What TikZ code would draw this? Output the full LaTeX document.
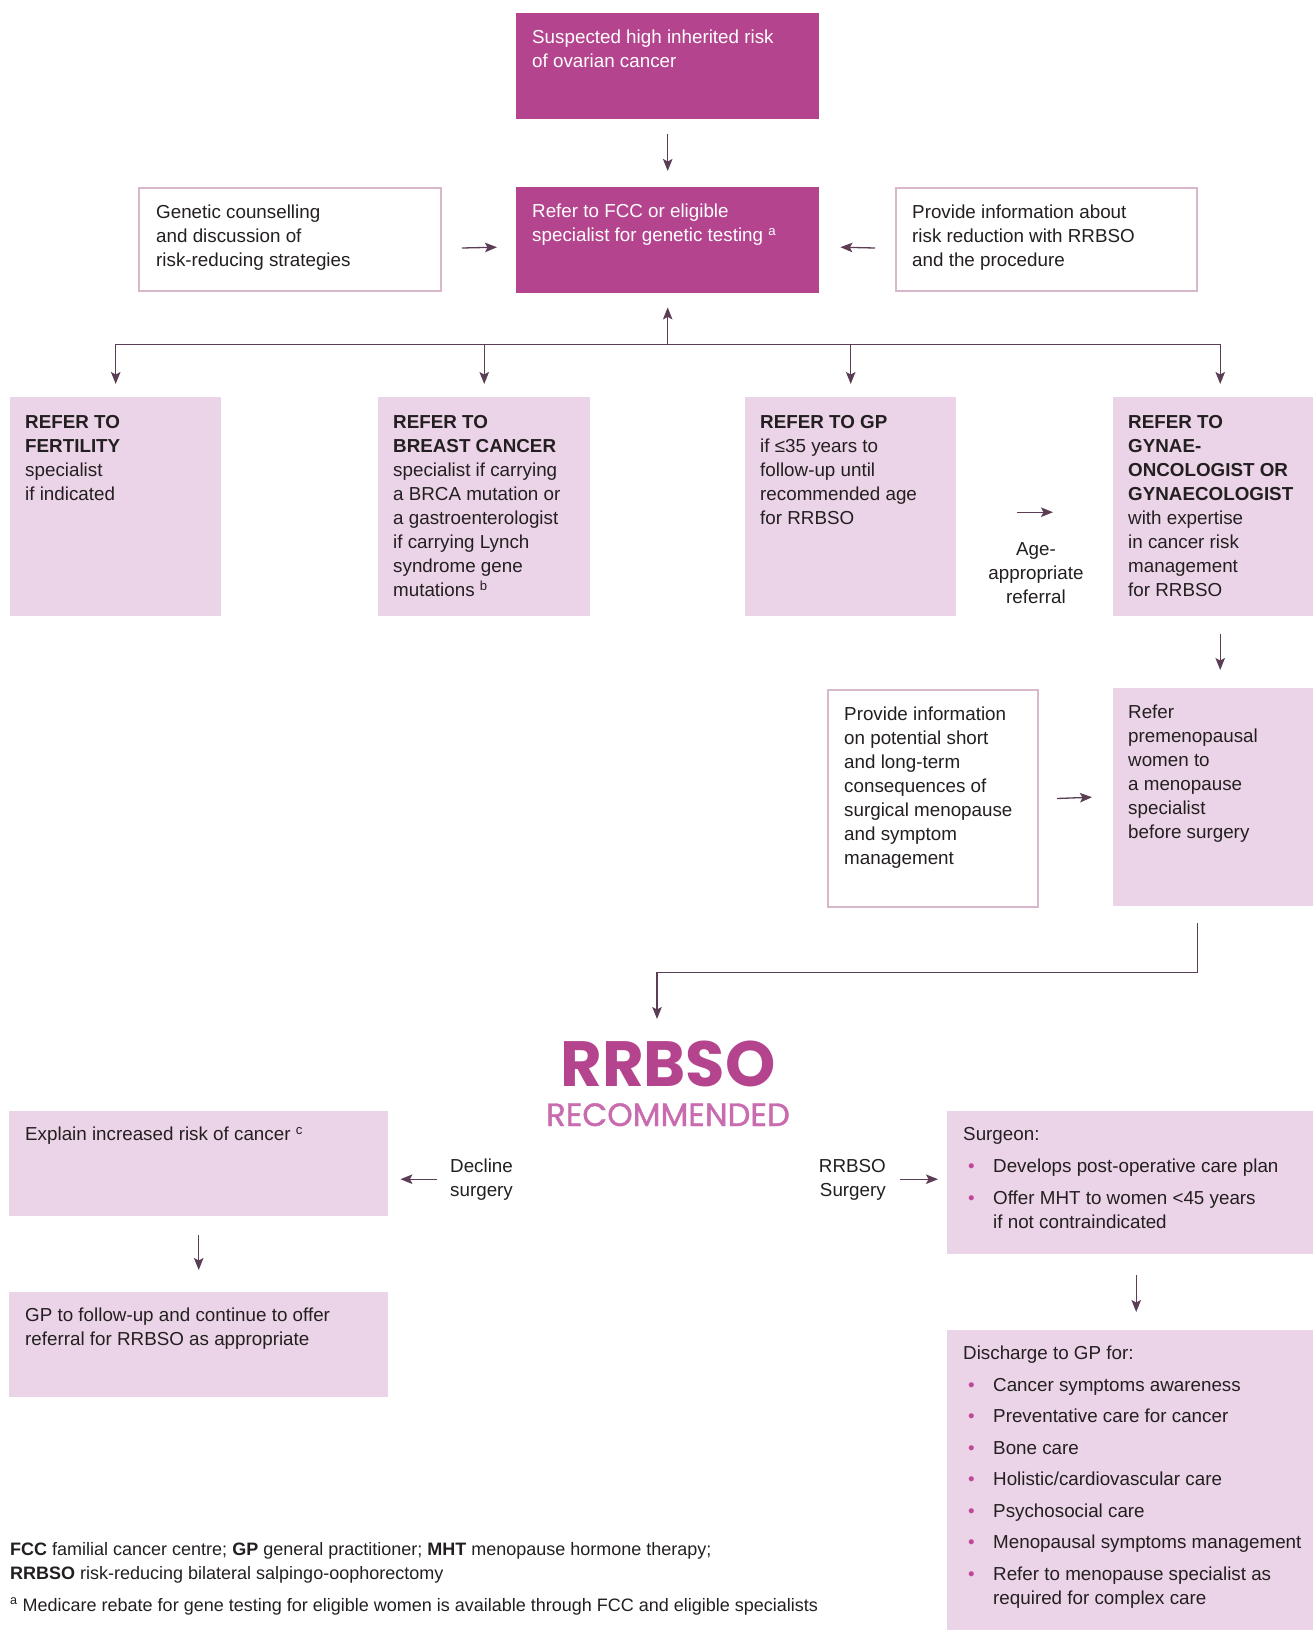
\documentclass[tikz,border=0pt]{standalone}
\usepackage{fontspec}
\setmainfont{Liberation Sans}
\newfontfamily\titlefont{Poppins}
\newfontfamily\titlemid{Poppins}[FakeBold=1.2]
\usetikzlibrary{calc,positioning,arrows.meta}

\definecolor{plum}{HTML}{B5448F}
\definecolor{blush}{HTML}{EBD4E7}
\definecolor{edge}{HTML}{D9B8CB}
\definecolor{arrowc}{HTML}{5C3D56}
\definecolor{ink}{HTML}{231F20}
\definecolor{softplum}{HTML}{C86BAF}
\definecolor{dotc}{HTML}{C0489A}

\newcommand\bodyfont{\fontsize{18.8}{24}\selectfont}
\newcommand\notefont{\fontsize{18}{24}\selectfont}
\newcommand\bul{\hspace*{5pt}\makebox[25pt][l]{\textcolor{dotc}{•}}}
\newcommand\bulgap{\hspace*{30pt}}

\tikzset{
  darkbox/.style={anchor=north west, inner sep=0pt, fill=plum},
  pinkbox/.style={anchor=north west, inner sep=0pt, fill=blush},
  linebox/.style={anchor=north west, inner sep=0pt, draw=edge, line width=2pt, fill=white},
  boxtext/.style={anchor=north west, inner sep=0pt, align=left, text=ink, font=\bodyfont},
  flow/.style={draw=arrowc, line width=1.3pt, -{Stealth[length=12pt,width=9.5pt,inset=2.5pt]}},
  trunk/.style={draw=arrowc, line width=1.3pt},
}

\begin{document}
\begin{tikzpicture}[x=1pt, y=-1pt]
    \useasboundingbox (0,0) rectangle (1313,1630);

    % top of the chart
    \node[darkbox, minimum width=303, minimum height=106] (suspect) at (516,13) {};
    \node[boxtext, text=white] (suspect-t) at ($(suspect.north west)+(16,17)$) {Suspected high inherited risk\\of ovarian cancer};
    \node[darkbox, minimum width=303, minimum height=106] (fcc) at (516,187) {};
    \node[boxtext, text=white] (fcc-t) at ($(fcc.north west)+(16,17)$) {Refer to FCC or eligible\\specialist for genetic testing \textsuperscript{a}};
    \node[linebox, minimum width=302, minimum height=103] (gc) at (138,187) {};
    \node[boxtext] (gc-t) at ($(gc.north west)+(18,18)$) {Genetic counselling\\and discussion of\\risk-reducing strategies};
    \node[linebox, minimum width=301, minimum height=103] (info) at (895,187) {};
    \node[boxtext] (info-t) at ($(info.north west)+(17,18)$) {Provide information about\\risk reduction with RRBSO\\and the procedure};

    % referral row
    \node[pinkbox, minimum width=211, minimum height=219] (fert) at (10,397) {};
    \node[boxtext] (fert-t) at ($(fert.north west)+(15,18)$) {\textbf{REFER TO}\\\textbf{FERTILITY}\\specialist\\if indicated};
    \node[pinkbox, minimum width=212, minimum height=219] (breast) at (378,397) {};
    \node[boxtext] (breast-t) at ($(breast.north west)+(15,18)$) {\textbf{REFER TO}\\\textbf{BREAST CANCER}\\specialist if carrying\\a BRCA mutation or\\a gastroenterologist\\if carrying Lynch\\syndrome gene\\mutations \textsuperscript{b}};
    \node[pinkbox, minimum width=211, minimum height=219] (gp) at (745,397) {};
    \node[boxtext] (gp-t) at ($(gp.north west)+(15,18)$) {\textbf{REFER TO GP}\\if ≤35 years to\\follow-up until\\recommended age\\for RRBSO};
    \node[pinkbox, minimum width=200, minimum height=219] (gynae) at (1113,397) {};
    \node[boxtext] (gynae-t) at ($(gynae.north west)+(15,18)$) {\textbf{REFER TO}\\\textbf{GYNAE-}\\\textbf{ONCOLOGIST OR}\\\textbf{GYNAECOLOGIST}\\with expertise\\in cancer risk\\management\\for RRBSO};

    % before surgery
    \node[linebox, minimum width=210, minimum height=217] (conseq) at (827,689) {};
    \node[boxtext] (conseq-t) at ($(conseq.north west)+(17,18)$) {Provide information\\on potential short\\and long-term\\consequences of\\surgical menopause\\and symptom\\management};
    \node[pinkbox, minimum width=200, minimum height=218] (meno) at (1113,688) {};
    \node[boxtext] (meno-t) at ($(meno.north west)+(15,17)$) {Refer\\premenopausal\\women to\\a menopause\\specialist\\before surgery};

    % decision
    \node[anchor=base, inner sep=0pt, text=plum, font=\titlefont\bfseries\fontsize{64}{64}\selectfont] (rrbso) at (668,1086) {RRBSO};
    \node[anchor=base, inner sep=0pt, text=softplum, font=\titlemid\fontsize{32.3}{33}\selectfont] (recom) at (668,1126) {RECOMMENDED};
    \coordinate (ttlin) at (657,1019);

    \node[pinkbox, minimum width=379, minimum height=105] (explain) at (9,1111) {};
    \node[boxtext] (explain-t) at ($(explain.north west)+(16,16)$) {Explain increased risk of cancer \textsuperscript{c}};
    \node[pinkbox, minimum width=379, minimum height=105] (gpfu) at (9,1292) {};
    \node[boxtext] (gpfu-t) at ($(gpfu.north west)+(16,16)$) {GP to follow-up and continue to offer\\referral for RRBSO as appropriate};
    \node[boxtext] (decline) at (450,1159) {Decline\\surgery};

    \node[boxtext, anchor=north east, align=right] (rrsurg) at (886,1159) {RRBSO\\Surgery};
    \node[pinkbox, minimum width=366, minimum height=143] (surgeon) at (947,1111) {};
    \node[boxtext] (surgeon-t) at ($(surgeon.north west)+(16,16)$) {Surgeon:\\[8pt]
        \bul Develops post-operative care plan\\[8pt]
        \bul Offer MHT to women <45 years\\
        \bulgap if not contraindicated};
    \node[pinkbox, minimum width=366, minimum height=300] (discharge) at (947,1330) {};
    \node[boxtext] (discharge-t) at ($(discharge.north west)+(16,16)$) {Discharge to GP for:\\[7.5pt]
        \bul Cancer symptoms awareness\\[7.5pt]
        \bul Preventative care for cancer\\[7.5pt]
        \bul Bone care\\[7.5pt]
        \bul Holistic/cardiovascular care\\[7.5pt]
        \bul Psychosocial care\\[7.5pt]
        \bul Menopausal symptoms management\\[7.5pt]
        \bul Refer to menopause specialist as\\
        \bulgap required for complex care};

    \node[boxtext, font=\notefont] (notes) at (10,1542) {\textbf{FCC} familial cancer centre; \textbf{GP} general practitioner; \textbf{MHT} menopause hormone therapy;\\
        \textbf{RRBSO} risk-reducing bilateral salpingo-oophorectomy\\[8pt]
        \textsuperscript{a} Medicare rebate for gene testing for eligible women is available through FCC and eligible specialists};

    % connectors
    \draw[flow] ($(suspect.south)+(0,15)$) -- ($(fcc.north)+(0,-16)$);
    \draw[flow] ($(gc.east)+(20,8.5)$) -- ($(fcc.west)+(-19,7)$);
    \draw[flow] ($(info.west)+(-20,8.5)$) -- ($(fcc.east)+(21,7)$);
    \coordinate (bus) at ($(fcc.south)+(0,51)$);
    \coordinate (gyin) at ($(gynae.north)+(7,-13)$);
    \draw[flow] (bus) -- ($(fcc.south)+(0,14)$);
    \draw[trunk] (fert.north |- bus) -- (gyin |- bus);
    \foreach \b in {fert,breast,gp} {
        \draw[flow] (\b.north |- bus) -- ($(\b.north)+(0,-13)$);
    }
    \draw[flow] (gyin |- bus) -- (gyin);
    \draw[flow] ($(gp.east)+(61,5.5)$) -- ($(gynae.west)+(-60,5.5)$);
    \node[boxtext, anchor=north, align=center] (agelbl) at (1036,542) {Age-\\appropriate\\referral};
    \draw[flow] ($(gynae.south)+(7,18)$) -- ($(meno.north)+(7,-18)$);
    \draw[flow] ($(conseq.east)+(18,0)$) -- ($(meno.west)+(-21,0)$);
    \draw[flow] ($(meno.south)+(-16,17)$) -- ++(0,49) -| (ttlin);
    \draw[flow] ($(explain.east)+(49,15.5)$) -- ($(explain.east)+(12,15.5)$);
    \draw[flow] ($(explain.south)+(0,19)$) -- ($(gpfu.north)+(0,-22)$);
    \draw[flow] ($(surgeon.west)+(-47,-3.5)$) -- ($(surgeon.west)+(-9,-3.5)$);
    \draw[flow] ($(surgeon.south)+(6,21)$) -- ($(discharge.north)+(6,-18)$);
\end{tikzpicture}
\end{document}
